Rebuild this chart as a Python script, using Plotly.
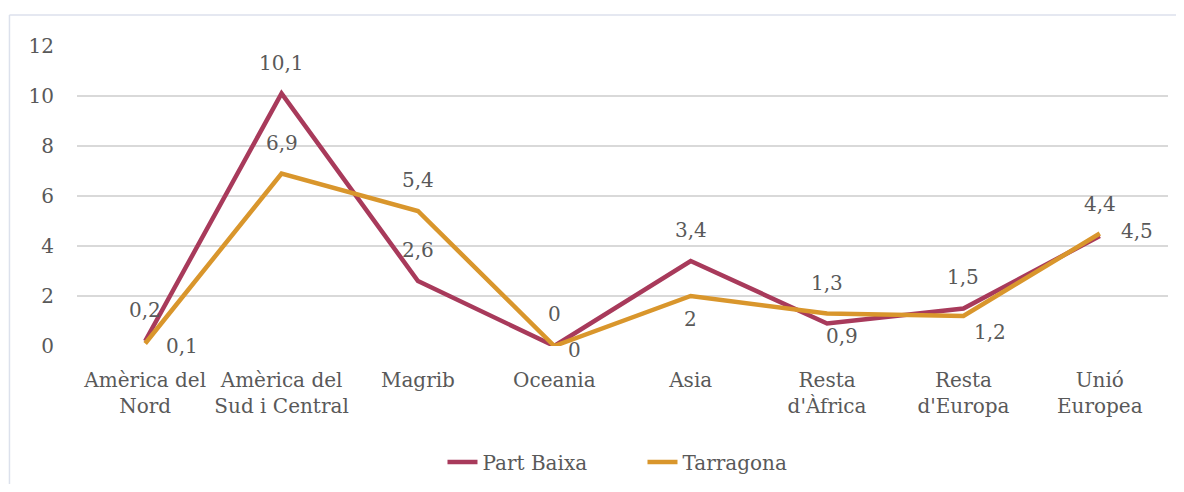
import plotly.graph_objects as go

categories = ["Amèrica del<br>Nord", "Amèrica del<br>Sud i Central", "Magrib", "Oceania",
              "Asia", "Resta<br>d'Àfrica", "Resta<br>d'Europa", "Unió<br>Europea"]
part_baixa = [0.2, 10.1, 2.6, 0, 3.4, 0.9, 1.5, 4.4]
tarragona = [0.1, 6.9, 5.4, 0, 2, 1.3, 1.2, 4.5]
y_ticks = [0, 2, 4, 6, 8, 10, 12]

# label placement offsets in pixels (xshift, yshift)
pb_offsets = [(0, 31), (0, 31), (0, 31), (0, 32), (0, 31), (15, -12), (0, 32), (0, 32)]
tg_offsets = [(37, -2), (0, 31), (0, 31), (20, -4), (0, -23), (0, 31), (27, -16), (37, 3)]

RED = "#A83A5B"
ORANGE = "#D9962C"
TXT = "#595959"
FONT = "DejaVu Serif"

fig = go.Figure()
fig.add_trace(go.Scatter(x=categories, y=part_baixa, mode="lines", name="Part Baixa",
                         line=dict(color=RED, width=4.5)))
fig.add_trace(go.Scatter(x=categories, y=tarragona, mode="lines", name="Tarragona",
                         line=dict(color=ORANGE, width=4.5)))


def fmt(v):
    s = ("%g" % v)
    return s.replace(".", ",")


annotations = []
for vals, offs in ((part_baixa, pb_offsets), (tarragona, tg_offsets)):
    for c, v, (dx, dy) in zip(categories, vals, offs):
        annotations.append(dict(x=c, y=v, xref="x", yref="y", text=fmt(v), showarrow=False,
                                xshift=dx, yshift=dy,
                                font=dict(family=FONT, size=20, color=TXT)))

fig.update_layout(
    width=1176, height=476,
    margin=dict(l=69, r=16, t=38, b=138, autoexpand=False),
    paper_bgcolor="white", plot_bgcolor="white",
    font=dict(family=FONT, size=20, color=TXT),
    separators=",.",
    showlegend=True,
    legend=dict(orientation="h", x=0.335, xanchor="left", y=-0.387, yanchor="middle",
                entrywidth=155, entrywidthmode="pixels",
                font=dict(family=FONT, size=20, color=TXT), traceorder="normal"),
    annotations=annotations,
    shapes=[
        dict(type="line", xref="paper", yref="paper", x0=-0.0619, x1=-0.0619, y0=1.1033, y1=-0.49,
             line=dict(color="#DCE1EC", width=1.5)),
        dict(type="line", xref="paper", yref="paper", x0=-0.0619, x1=1.02, y0=1.1033, y1=1.1033,
             line=dict(color="#DCE1EC", width=1.5)),
    ],
)
fig.update_xaxes(range=[-0.5, len(categories) - 0.5], showgrid=False, showline=False, zeroline=False,
                 ticks="", tickfont=dict(family=FONT, size=20, color=TXT), ticklabelstandoff=20)
fig.update_yaxes(range=[0, 12], tickvals=y_ticks, showgrid=True, gridcolor="#D9D9D9", gridwidth=2,
                 zeroline=False, showline=False, ticks="",
                 tickfont=dict(family=FONT, size=20, color=TXT), ticklabelstandoff=22)

fig.write_html("out.html")
